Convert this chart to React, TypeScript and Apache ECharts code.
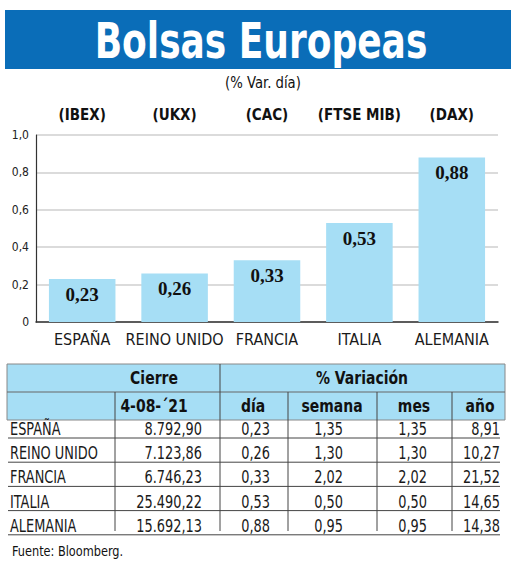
import React, { useEffect, useRef } from "react";
import * as echarts from "echarts";

const countries = ["ESPAÑA", "REINO UNIDO", "FRANCIA", "ITALIA", "ALEMANIA"];
const tickers = ["(IBEX)", "(UKX)", "(CAC)", "(FTSE MIB)", "(DAX)"];
const dayVar = [0.23, 0.26, 0.33, 0.53, 0.88];
const cierre = ["8.792,90", "7.123,86", "6.746,23", "25.490,22", "15.692,13"];
const semana = ["1,35", "1,30", "2,02", "0,50", "0,95"];
const mes = ["1,35", "1,30", "2,02", "0,50", "0,95"];
const anio = ["8,91", "10,27", "21,52", "14,65", "14,38"];

const COND = '"DejaVu Sans Condensed", "DejaVu Sans", sans-serif';
const BLUE = "#0a6db8";
const LIGHT = "#a6def5";

const fmt = (v: number) => v.toFixed(2).replace(".", ",");

export default function App() {
  const ref = useRef<HTMLDivElement>(null);
  useEffect(() => {
    if (!ref.current) return;
    const chart = echarts.init(ref.current, undefined, { renderer: "svg" });

    const graphics: any[] = [];
    // Title band
    graphics.push({ type: "rect", shape: { x: 5, y: 10, width: 506, height: 59 }, style: { fill: BLUE } });
    graphics.push({
      type: "text", x: 261, y: 41, scaleX: 0.8,
      style: { text: "Bolsas Europeas", fill: "#fff", font: `bold 50px ${COND}`, align: "center", verticalAlign: "middle" },
    });
    graphics.push({
      type: "text", x: 263, y: 83, scaleX: 0.92,
      style: { text: "(% Var. día)", fill: "#111", font: `16px ${COND}`, align: "center", verticalAlign: "middle" },
    });

    // Table
    const tL = 7, tR = 505;
    graphics.push({ type: "rect", shape: { x: tL, y: 364, width: tR - tL, height: 56 }, style: { fill: LIGHT, stroke: "#888", lineWidth: 1 } });
    graphics.push({ type: "line", shape: { x1: tL, y1: 392, x2: tR, y2: 392 }, style: { stroke: "#666", lineWidth: 1 } });
    graphics.push({ type: "line", shape: { x1: 220, y1: 364, x2: 220, y2: 531 }, style: { stroke: "#444", lineWidth: 1 } });
    [115, 288, 377, 452].forEach((x) => {
      graphics.push({ type: "line", shape: { x1: x, y1: 392, x2: x, y2: 531 }, style: { stroke: "#444", lineWidth: 1 } });
    });
    const hdr = (text: string, x: number, y: number) =>
      graphics.push({ type: "text", x, y, scaleX: 0.84, style: { text, fill: "#111", font: `bold 18.5px ${COND}`, align: "center", verticalAlign: "middle" } });
    hdr("Cierre", 154, 378);
    hdr("% Variación", 362, 378);
    hdr("4-08-´21", 154, 406);
    hdr("día", 253, 406);
    hdr("semana", 332, 406);
    hdr("mes", 414, 406);
    hdr("año", 480, 406);

    const cell = (text: string, x: number, y: number, align: string) =>
      graphics.push({ type: "text", x, y, scaleX: 0.82, style: { text, fill: "#1a1a1a", font: `17.5px ${COND}`, align, verticalAlign: "middle" } });
    countries.forEach((c, i) => {
      const y = 429 + i * 24.2;
      cell(c, 10, y, "left");
      cell(cierre[i], 202, y, "right");
      cell(fmt(dayVar[i]), 270, y, "right");
      cell(semana[i], 343, y, "right");
      cell(mes[i], 427, y, "right");
      cell(anio[i], 500, y, "right");
      graphics.push({ type: "line", shape: { x1: 8, y1: y + 9, x2: 500, y2: y + 9 }, style: { stroke: "#444", lineWidth: 1 } });
    });
    graphics.push({
      type: "text", x: 12, y: 551, scaleX: 0.9,
      style: { text: "Fuente: Bloomberg.", fill: "#111", font: `14px ${COND}`, align: "left", verticalAlign: "middle" },
    });

    chart.setOption({
      animation: false,
      backgroundColor: "#fff",
      grid: { left: 36, right: 22, top: 135, bottom: 242 },
      xAxis: [
        {
          type: "category",
          data: countries,
          axisLine: { lineStyle: { color: "#333", width: 1.5 } },
          axisTick: { show: false },
          axisLabel: { color: "#1a1a1a", fontFamily: COND, fontSize: 16, margin: 9, interval: 0 },
        },
        {
          type: "category",
          position: "top",
          data: tickers,
          axisLine: { show: false },
          axisTick: { show: false },
          axisLabel: { color: "#111", fontFamily: COND, fontSize: 15, fontWeight: "bold", margin: 13, interval: 0 },
        },
      ],
      yAxis: {
        type: "value",
        min: 0,
        max: 1,
        interval: 0.2,
        axisLine: { show: true, lineStyle: { color: "#333", width: 1.2 } },
        axisTick: { show: false },
        splitLine: { lineStyle: { color: "#cfcfcf", width: 1.5 } },
        axisLabel: {
          color: "#222",
          fontFamily: COND,
          fontSize: 12,
          margin: 7,
          formatter: (v: number) => (v === 0 ? "0" : v.toFixed(1).replace(".", ",")),
        },
      },
      series: [
        {
          type: "bar",
          data: dayVar,
          barWidth: "72%",
          itemStyle: { color: LIGHT },
          label: {
            show: true,
            position: "insideTop",
            distance: 6,
            formatter: (p: any) => fmt(p.value),
            color: "#111",
            fontFamily: '"Liberation Serif", "DejaVu Serif", serif',
            fontWeight: "bold",
            fontSize: 19,
          },
        },
      ],
      graphic: graphics,
    });
    return () => chart.dispose();
  }, []);
  return <div ref={ref} style={{ position: "absolute", left: 0, top: 0, width: 520, height: 564 }} />;
}
